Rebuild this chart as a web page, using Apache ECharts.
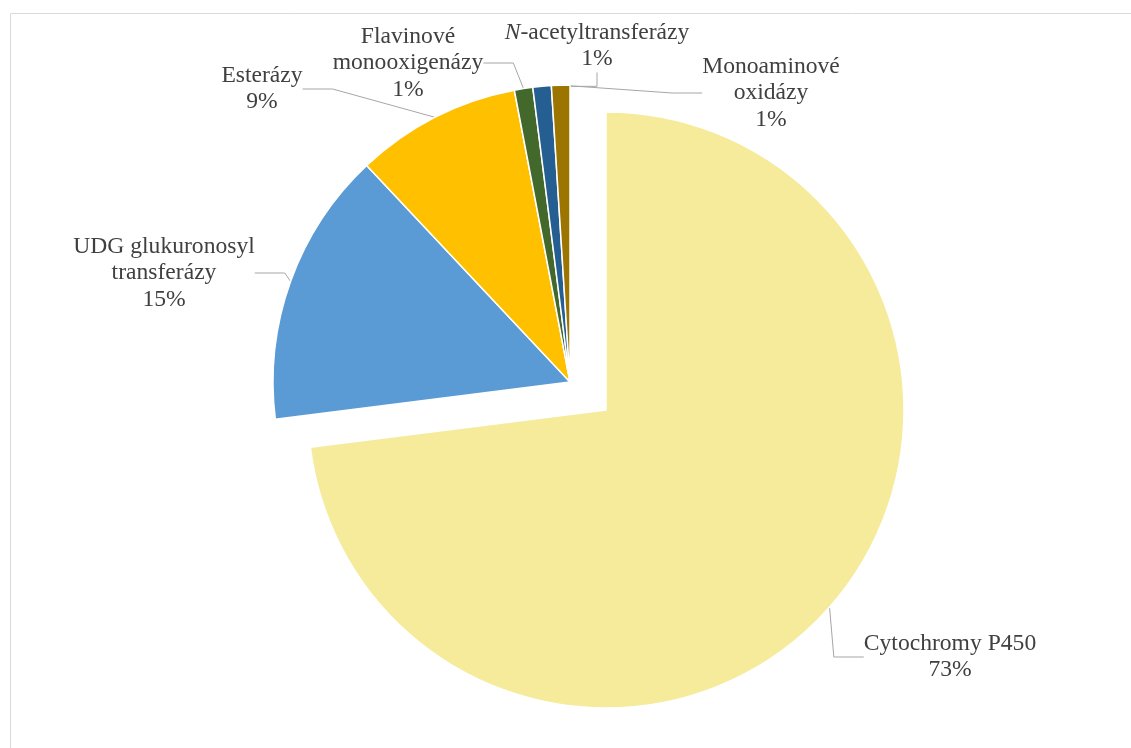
<!DOCTYPE html>
<html>
<head>
<meta charset="utf-8">
<script src="https://cdn.jsdelivr.net/npm/echarts@6/dist/echarts.min.js"></script>
<style>html,body{margin:0;padding:0;background:#fff}#c{width:1131px;height:748px}</style>
</head>
<body>
<div id="c"></div>
<script>
const categories = ['Cytochromy P450', 'UDG glukuronosyl\ntransferázy', 'Esterázy', 'Flavinové\nmonooxigenázy', 'N-acetyltransferázy', 'Monoaminové\noxidázy'];
const values = [73, 15, 9, 1, 1, 1];
const colors = ['#F5EB9B', '#5B9BD5', '#FFC000', '#43682B', '#255E91', '#9C7400'];
const explodedIndex = 0;
const labelPos = [[950, 657], [164, 273], [262, 89], [408, 63], [597, 46], [771, 93]];

const FONT = '"Liberation Serif", "Times New Roman", serif';
const FS = 23.6, LH = 26.5;

function makeSeries(center, radius, showExploded) {
  return {
    type: 'pie',
    center: center,
    radius: radius,
    startAngle: 90,
    clockwise: true,
    percentPrecision: 0,
    avoidLabelOverlap: false,
    emphasis: {disabled: true},
    label: {
      show: true,
      position: 'outside',
      fontFamily: FONT,
      fontSize: FS,
      lineHeight: LH,
      color: '#404040',
      align: 'center',
      formatter: function (p) {
        let n = p.name;
        if (n.indexOf('N-') === 0) n = '{i|N}' + n.slice(1);
        return n + '\n' + p.percent + '%';
      },
      rich: {
        i: {fontStyle: 'italic', fontFamily: FONT, fontSize: FS, lineHeight: LH, color: '#404040'}
      }
    },
    labelLine: {show: true, lineStyle: {color: '#A6A6A6', width: 1}},
    labelLayout: function (p) {
      const pos = labelPos[p.dataIndex];
      return {x: pos[0], y: pos[1], align: 'center', verticalAlign: 'middle'};
    },
    data: categories.map((c, i) => {
      const visible = (i === explodedIndex) === showExploded;
      return {
        name: c, value: values[i],
        itemStyle: visible ? {color: colors[i], borderColor: '#fff', borderWidth: 1.5}
                           : {color: 'rgba(0,0,0,0)', borderWidth: 0},
        label: {show: visible},
        labelLine: {show: visible}
      };
    })
  };
}

const chart = echarts.init(document.getElementById('c'));
chart.setOption({
  animation: false,
  graphic: [{
    type: 'rect', shape: {x: 10.5, y: 13.5, width: 1300, height: 900},
    style: {fill: 'none', stroke: '#D9D9D9', lineWidth: 1}, silent: true
  }],
  series: [
    makeSeries([606, 410], 298, true),
    makeSeries([570, 382], 297, false)
  ]
});
</script>
</body>
</html>
